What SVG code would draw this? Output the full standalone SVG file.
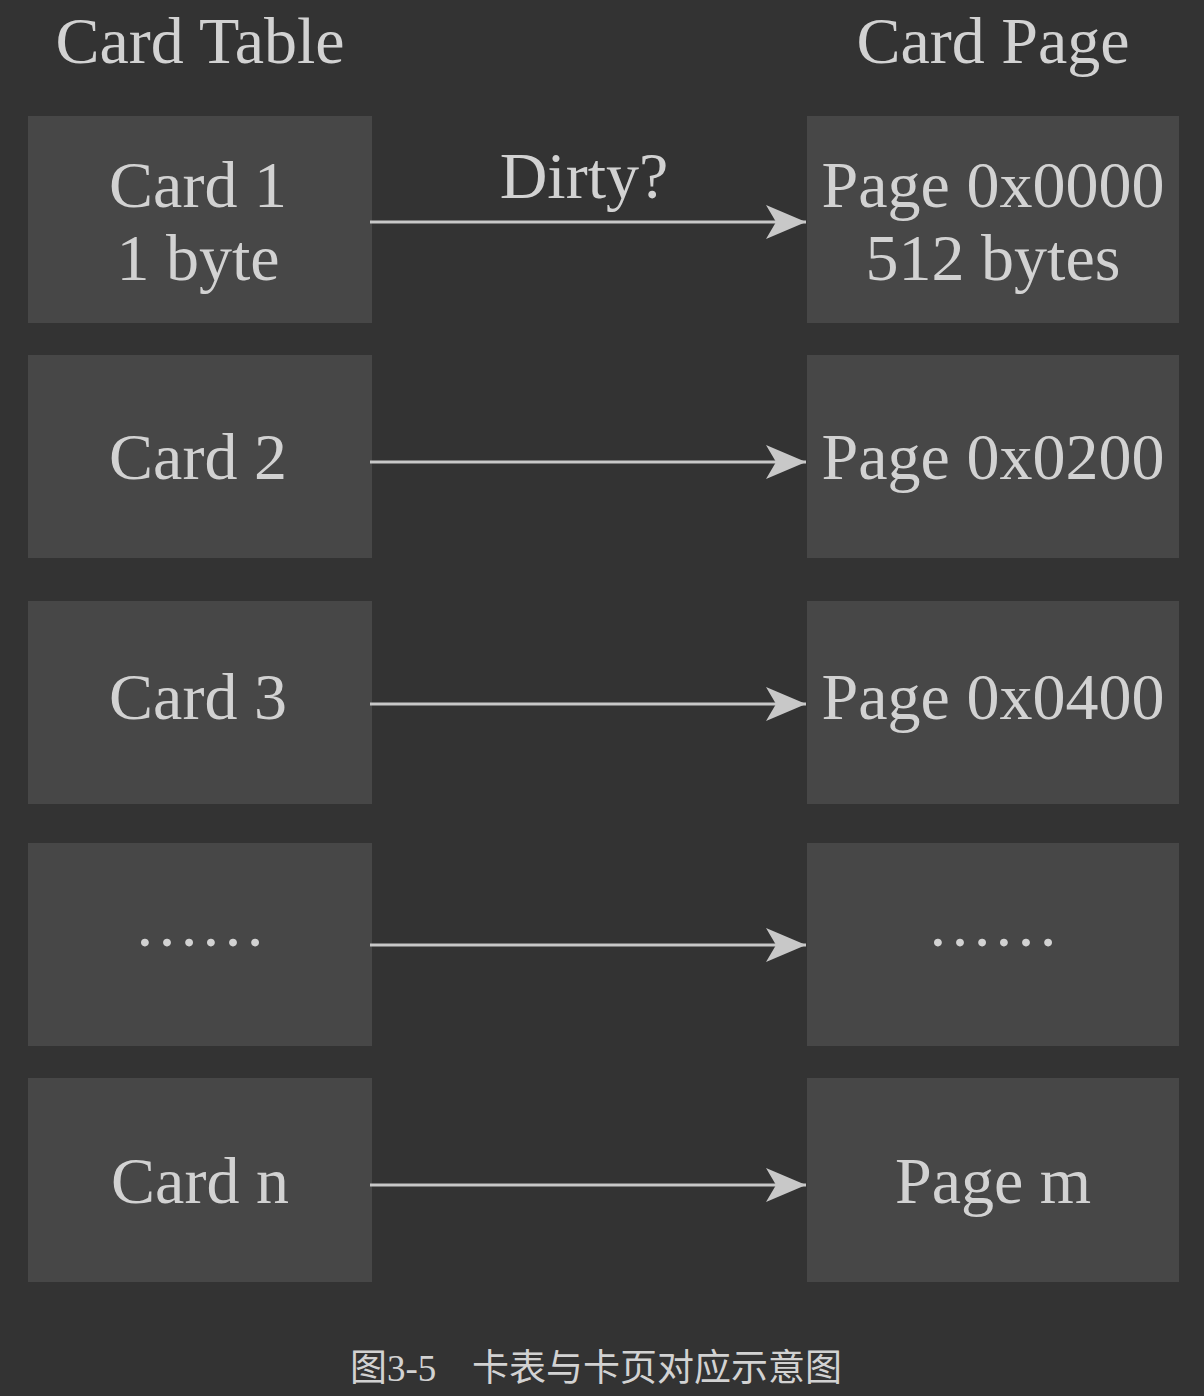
<svg xmlns="http://www.w3.org/2000/svg" width="1204" height="1396" viewBox="0 0 1204 1396">
<style>
.box{fill:#474747}
.t{font-family:"Liberation Serif","Times New Roman",serif;font-size:66px;fill:#d2d2d2;text-anchor:middle}
.cap{font-family:"Liberation Serif","Noto Sans CJK SC",serif;font-size:37px;fill:#d2d2d2}
.ln{stroke:#c8c8c8;stroke-width:3;fill:none}
</style>
<defs>
<marker id="ah" markerUnits="userSpaceOnUse" markerWidth="44" markerHeight="40" refX="40" refY="20" orient="auto">
<path d="M0,3 L40,20 L0,37 L10,20 Z" fill="#c8c8c8"/>
</marker>
</defs>
<rect width="1204" height="1396" fill="#333333"/>
<text class="t" x="200" y="63">Card Table</text>
<text class="t" x="993" y="63">Card Page</text>
<g id="card1"><rect class="box" x="28" y="116" width="344" height="207"/><text class="t" x="198" y="207">Card 1</text><text class="t" x="198" y="280">1 byte</text></g>
<g id="card2"><rect class="box" x="28" y="355" width="344" height="203"/><text class="t" x="198" y="479">Card 2</text></g>
<g id="card3"><rect class="box" x="28" y="601" width="344" height="203"/><text class="t" x="198" y="719">Card 3</text></g>
<g id="card-dots"><rect class="box" x="28" y="843" width="344" height="203"/><text class="t" x="200" y="946">……</text></g>
<g id="cardn"><rect class="box" x="28" y="1078" width="344" height="204"/><text class="t" x="200" y="1203">Card n</text></g>
<g id="page0"><rect class="box" x="807" y="116" width="372" height="207"/><text class="t" x="993" y="207">Page 0x0000</text><text class="t" x="993" y="280">512 bytes</text></g>
<g id="page200"><rect class="box" x="807" y="355" width="372" height="203"/><text class="t" x="993" y="479">Page 0x0200</text></g>
<g id="page400"><rect class="box" x="807" y="601" width="372" height="203"/><text class="t" x="993" y="719">Page 0x0400</text></g>
<g id="page-dots"><rect class="box" x="807" y="843" width="372" height="203"/><text class="t" x="993" y="946">……</text></g>
<g id="pagem"><rect class="box" x="807" y="1078" width="372" height="204"/><text class="t" x="993" y="1203">Page m</text></g>
<g id="connectors">
<line class="ln" x1="370" y1="222" x2="806" y2="222" marker-end="url(#ah)"/>
<line class="ln" x1="370" y1="462" x2="806" y2="462" marker-end="url(#ah)"/>
<line class="ln" x1="370" y1="704" x2="806" y2="704" marker-end="url(#ah)"/>
<line class="ln" x1="370" y1="945" x2="806" y2="945" marker-end="url(#ah)"/>
<line class="ln" x1="370" y1="1185" x2="806" y2="1185" marker-end="url(#ah)"/>
<text class="t" x="584" y="198">Dirty?</text>
</g>
<text class="cap" x="350" y="1381">图3-5<tspan x="472">卡表与卡页对应示意图</tspan></text>
</svg>
